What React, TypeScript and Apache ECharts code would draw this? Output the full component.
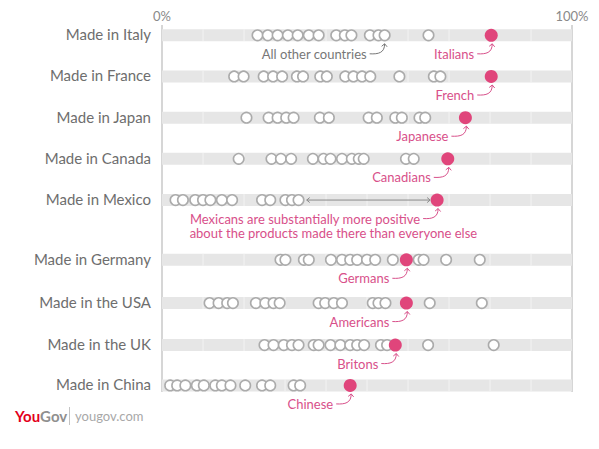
import React, { useEffect, useRef } from "react";
import * as echarts from "echarts";

// ---- data ----
const rows = [
  "Made in Italy",
  "Made in France",
  "Made in Japan",
  "Made in Canada",
  "Made in Mexico",
  "Made in Germany",
  "Made in the USA",
  "Made in the UK",
  "Made in China",
];
const nativeLabels = [
  "Italians",
  "French",
  "Japanese",
  "Canadians",
  "Mexicans are substantially more positive",
  "Germans",
  "Americans",
  "Britons",
  "Chinese",
];
const mexicoSecondLine = "about the products made there than everyone else";
const otherLabel = "All other countries";
const nativeScores = [80.3, 80.3, 74.0, 69.7, 67.1, 59.6, 59.6, 56.9, 45.9];

const italyOthers = [23.3, 25.8, 28.2, 30.7, 33.1, 35.8, 38.2, 42.5, 44.6, 46.2, 50.7, 52.8, 54.3, 65.0];
const franceOthers = [17.6, 19.9, 24.8, 27.1, 29.3, 32.9, 34.4, 38.6, 40.2, 44.7, 46.7, 48.8, 50.8, 57.9, 66.3, 67.9];
const japanOthers = [20.6, 26.0, 28.2, 30.3, 32.1, 38.5, 40.7, 50.4, 52.4, 56.9, 58.5, 62.8, 64.2];
const canadaOthers = [18.7, 26.7, 29.0, 31.5, 36.8, 39.4, 41.1, 43.9, 46.3, 48.0, 49.2, 59.5, 61.4];
const mexicoOthers = [3.3, 5.1, 8.1, 10.0, 11.8, 14.6, 17.1, 24.4, 26.4, 30.1, 31.7, 33.3];
const germanyOthers = [28.9, 30.1, 34.6, 35.8, 41.2, 43.9, 45.9, 47.6, 50.0, 52.0, 56.3, 62.6, 63.8, 69.3, 77.5];
const usaOthers = [11.6, 13.8, 15.9, 17.3, 22.9, 25.2, 27.2, 28.7, 38.2, 39.8, 41.9, 43.9, 51.4, 52.8, 54.5, 65.3, 78.0];
const ukOthers = [25.0, 27.2, 29.7, 31.7, 33.3, 37.0, 38.2, 41.1, 43.5, 45.9, 47.6, 49.3, 53.4, 54.9, 64.9, 80.9];
const chinaOthers = [2.0, 3.7, 5.7, 8.5, 10.2, 13.0, 14.6, 16.7, 20.3, 24.4, 26.4, 32.1, 33.7];

const others = [
  italyOthers,
  franceOthers,
  japanOthers,
  canadaOthers,
  mexicoOthers,
  germanyOthers,
  usaOthers,
  ukOthers,
  chinaOthers,
];

// ---- layout ----
const rowSlots = [0, 1, 2, 3, 4, 5.45, 6.5, 7.52, 8.5];
const PINK = "#e0457b";
const PINK_TEXT = "#d8508a";
const FONT = "Lato, 'Open Sans', sans-serif";

function measure(text: string, size: number) {
  const c = document.createElement("canvas").getContext("2d");
  if (!c) return text.length * size * 0.45;
  c.font = `${size}px Lato`;
  return c.measureText(text).width;
}

function arrowPieces(x0: number, y0: number, ex: number, ey: number, color: string) {
  return [
    {
      type: "bezierCurve",
      shape: { x1: x0, y1: y0, x2: ex, y2: ey, cpx1: x0 + 9, cpy1: y0 + 0.5, cpx2: ex, cpy2: y0 - 1 },
      style: { stroke: color, lineWidth: 1, fill: null },
    },
    {
      type: "polyline",
      shape: { points: [[ex - 3, ey + 2.5], [ex, ey], [ex + 2.5, ey + 3]] },
      style: { stroke: color, lineWidth: 1, fill: null },
    },
  ];
}

function annotation(dotX: number, dotY: number, text: string, color: string, size: number) {
  const right = dotX - 17;
  const ty = dotY + 18.5;
  return [
    {
      type: "text",
      style: {
        text,
        x: right,
        y: ty,
        align: "right",
        verticalAlign: "middle",
        fill: color,
        fontSize: size,
        fontFamily: FONT,
      },
    },
    ...arrowPieces(right + 3, ty, dotX + 1, dotY + 8.5, color),
  ];
}

export default function App() {
  const ref = useRef<HTMLDivElement>(null);
  useEffect(() => {
    document.body.style.margin = "0";
    const chart = echarts.init(ref.current!, null, { renderer: "svg" });
    const annSize = 13;
    const option: any = {
      animation: false,
      grid: { left: 162, width: 410, top: 25, height: 367 },
      xAxis: {
        type: "value",
        position: "top",
        min: 0,
        max: 100,
        interval: 100,
        axisLine: { show: false },
        axisTick: { show: false },
        axisLabel: { formatter: "{value}%", color: "#8a8a8a", fontSize: 13, fontFamily: FONT, margin: 3 },
        splitLine: { show: true, lineStyle: { color: "#c9c9c9", width: 1.5 } },
      },
      yAxis: {
        type: "value",
        inverse: true,
        min: -0.25,
        max: 8.66,
        show: false,
        splitLine: { show: false },
      },
      series: [
        {
          type: "custom",
          z: 1,
          silent: true,
          encode: { x: 0, y: 1 },
          data: rows.map((_, i) => [0, rowSlots[i], i]),
          renderItem: (params: any, api: any) => {
            const slot = api.value(1);
            const idx = api.value(2);
            const p0 = api.coord([0, slot]);
            const p1 = api.coord([100, slot]);
            const h = 12;
            const children: any[] = [
              {
                type: "rect",
                shape: { x: p0[0], y: p0[1] - h / 2, width: p1[0] - p0[0], height: h },
                style: { fill: "#e6e6e6" },
              },
            ];
            for (let t = 10; t < 100; t += 10) {
              const px = api.coord([t, slot])[0];
              children.push({
                type: "line",
                shape: { x1: px, y1: p0[1] - h / 2, x2: px, y2: p0[1] + h / 2 },
                style: { stroke: "#f3f3f3", lineWidth: 1 },
              });
            }
            children.push({
              type: "text",
              style: {
                text: rows[idx],
                x: p0[0] - 11,
                y: p0[1] - 1,
                align: "right",
                verticalAlign: "middle",
                fill: "#6e6e6e",
                fontSize: 15,
                fontFamily: FONT,
              },
            });
            return { type: "group", children };
          },
        },
        {
          type: "scatter",
          z: 3,
          silent: true,
          symbol: "circle",
          symbolSize: 10.5,
          itemStyle: { color: "#fff", borderColor: "#ababab", borderWidth: 1.6, opacity: 1 },
          data: others.flatMap((arr, i) => arr.map((v) => [v, rowSlots[i]])),
        },
        {
          type: "scatter",
          z: 4,
          silent: true,
          symbol: "circle",
          symbolSize: 13,
          itemStyle: { color: PINK, opacity: 1 },
          data: nativeScores.map((v, i) => [v, rowSlots[i]]),
        },
        {
          type: "custom",
          z: 5,
          silent: true,
          encode: { x: 0, y: 1 },
          data: nativeScores.map((v, i) => [v, rowSlots[i], i]),
          renderItem: (params: any, api: any) => {
            const v = api.value(0);
            const slot = api.value(1);
            const idx = api.value(2);
            const p = api.coord([v, slot]);
            const children: any[] = annotation(p[0], p[1], nativeLabels[idx], PINK_TEXT, annSize);
            if (idx === 4) {
              const w = measure(nativeLabels[idx], annSize);
              children.push({
                type: "text",
                style: {
                  text: mexicoSecondLine,
                  x: p[0] - 17 - w,
                  y: p[1] + 33,
                  align: "left",
                  verticalAlign: "middle",
                  fill: PINK_TEXT,
                  fontSize: annSize,
                  fontFamily: FONT,
                },
              });
              const maxOther = Math.max(...mexicoOthers);
              const a = api.coord([maxOther + 2, slot]);
              const b = api.coord([v - 1.7, slot]);
              const col = "#8a8a8a";
              children.push(
                { type: "line", shape: { x1: a[0], y1: a[1], x2: b[0], y2: b[1] }, style: { stroke: col, lineWidth: 1 } },
                { type: "polyline", shape: { points: [[a[0] + 3, a[1] - 2.5], [a[0], a[1]], [a[0] + 3, a[1] + 2.5]] }, style: { stroke: col, lineWidth: 1, fill: null } },
                { type: "polyline", shape: { points: [[b[0] - 3, b[1] - 2.5], [b[0], b[1]], [b[0] - 3, b[1] + 2.5]] }, style: { stroke: col, lineWidth: 1, fill: null } }
              );
            }
            return { type: "group", children };
          },
        },
        {
          type: "custom",
          z: 5,
          silent: true,
          encode: { x: 0, y: 1 },
          data: [[italyOthers[12], rowSlots[0]]],
          renderItem: (params: any, api: any) => {
            const p = api.coord([api.value(0), api.value(1)]);
            return { type: "group", children: annotation(p[0] - 1, p[1], otherLabel, "#777", annSize) };
          },
        },
      ],
      graphic: [
        {
          type: "text",
          left: 15,
          top: 408,
          style: {
            text: "{a|You}{b|Gov}",
            rich: {
              a: { fill: "#e3001b", fontWeight: "bold", fontSize: 15, fontFamily: FONT },
              b: { fill: "#8f8f8f", fontWeight: "bold", fontSize: 15, fontFamily: FONT },
            },
          },
        },
        {
          type: "line",
          shape: { x1: 69.5, y1: 407, x2: 69.5, y2: 425 },
          style: { stroke: "#c4c4c4", lineWidth: 1 },
        },
        {
          type: "text",
          left: 75,
          top: 409,
          style: { text: "yougov.com", fill: "#a8a8a8", fontSize: 13, fontFamily: FONT },
        },
      ],
    };
    chart.setOption(option);
    return () => chart.dispose();
  }, []);
  return <div ref={ref} style={{ width: 599, height: 449 }} />;
}
